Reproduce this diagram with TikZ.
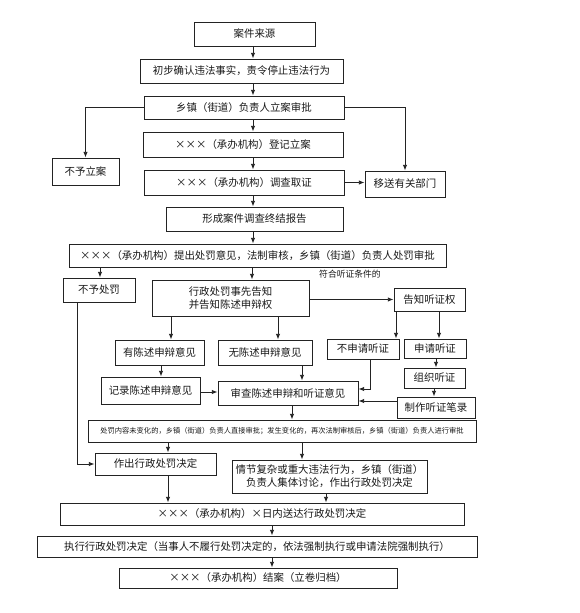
\documentclass[tikz,border=0pt]{standalone}
\usepackage{fontspec}
\setmainfont{Noto Sans CJK SC}
\usepackage{tikz}
\usetikzlibrary{arrows.meta}
\definecolor{flowInk}{RGB}{25,25,25}
\definecolor{flowLine}{RGB}{35,35,35}
\newlength{\figpx}
\setlength{\figpx}{0.03cm}

\begin{document}
\begin{tikzpicture}[
  x=1\figpx,
  y=-1\figpx,
  >=Latex,
  font=\fontsize{8.9}{11}\selectfont,
  box/.style={draw=flowLine, line width=0.8pt, align=center, inner sep=0pt, text=flowInk},
  wh/.style 2 args={minimum width=#1\figpx, minimum height=#2\figpx},
  line/.style={-{Latex[length=1.7mm,width=1.3mm]}, draw=flowLine, line width=0.7pt}
]
\fill[white] (0,0) rectangle (579,613);
\useasboundingbox (0,0) rectangle (579,613);

% filing
\node[box, wh={121}{24}] (source) at (254.5,34) {案件来源};
\node[box, wh={203}{24}] (confirm) at (241.5,71) {初步确认违法事实，责令停止违法行为};
\node[box, wh={200}{23}] (approve) at (244,107.5) {乡镇（街道）负责人立案审批};
\node[box, wh={200}{25}] (register) at (243,144.5) {×××（承办机构）登记立案};
\node[box, wh={67}{27}] (nocase) at (85.5,171.5) {不予立案};
\node[box, wh={80}{26}] (transfer) at (405,184) {移送有关部门};
\node[box, wh={200}{25}] (investigate) at (244,182.5) {×××（承办机构）调查取证};
\node[box, wh={177}{24}] (report) at (254.5,219) {形成案件调查终结报告};
\node[box, wh={377}{23}] (propose) at (257.5,255.5) {×××（承办机构）提出处罚意见，法制审核，乡镇（街道）负责人处罚审批};
\node[font=\fontsize{7.5}{9}\selectfont, text=flowInk] (hearcond) at (350,274) {符合听证条件的};

% notice and hearing
\node[box, wh={72}{24}] (nopenalty) at (99,290) {不予处罚};
\node[box, wh={157}{36}] (notify) at (230.5,298) {行政处罚事先告知\\并告知陈述申辩权};
\node[box, wh={71}{23}] (hearright) at (429.5,299.5) {告知听证权};
\node[box, wh={89}{25}] (withopinion) at (159.5,352.5) {有陈述申辩意见};
\node[box, wh={94}{25}] (noopinion) at (265,352.5) {无陈述申辩意见};
\node[box, wh={72}{20}] (nohearing) at (363,349) {不申请听证};
\node[box, wh={62}{19}] (applyhearing) at (435,348.5) {申请听证};
\node[box, wh={61}{20}] (holdhearing) at (434.5,378) {组织听证};
\node[box, wh={78}{21}] (hearingrecord) at (436,407.5) {制作听证笔录};
\node[box, wh={99}{27}] (recordopinion) at (150.5,390.5) {记录陈述申辩意见};
\node[box, wh={140}{24}] (review) at (288,393) {审查陈述申辩和听证意见};
\node[box, wh={388}{22}, font=\fontsize{6.2}{8}\selectfont] (note) at (282,431) {处罚内容未变化的，乡镇（街道）负责人直接审批；发生变化的，再次法制审核后，乡镇（街道）负责人进行审批};

% decision
\node[box, wh={121}{22}] (decide) at (155.5,464) {作出行政处罚决定};
\node[box, wh={195}{33}] (collective) at (329.5,476.5) {情节复杂或重大违法行为，乡镇（街道）\\负责人集体讨论，作出行政处罚决定};
\node[box, wh={404}{22}] (deliver) at (262,514) {×××（承办机构）×日内送达行政处罚决定};
\node[box, wh={440}{21}] (execute) at (257,546.5) {执行行政处罚决定（当事人不履行处罚决定的，依法强制执行或申请法院强制执行）};
\node[box, wh={278}{20}] (close) at (258,578) {×××（承办机构）结案（立卷归档）};

% main column
\draw[line] (253,0 |- source.south) -- (253,0 |- confirm.north);
\draw[line] (253,0 |- confirm.south) -- (253,0 |- approve.north);
\draw[line] (253,0 |- approve.south) -- (253,0 |- register.north);
\draw[line] (253,0 |- register.south) -- (253,0 |- investigate.north);
\draw[line] (253,0 |- investigate.south) -- (253,0 |- report.north);
\draw[line] (253,0 |- report.south) -- (253,0 |- propose.north);
\draw[line] (252,0 |- propose.south) -- (252,0 |- notify.north);

\draw[line] (approve.west) -| (nocase.north);
\draw[line] (approve.east) -| (transfer.north);
\draw[line] (investigate.east) -- (investigate.east -| transfer.west);
\draw[line] (100,0 |- propose.south) -- (100,0 |- nopenalty.north);

% notice branches
\draw[line] (notify.east |- hearright.west) -- (hearright.west);
\draw[line] (171,0 |- notify.south) -- (171,0 |- withopinion.north);
\draw[line] (278,0 |- notify.south) -- (278,0 |- noopinion.north);
\draw[line] (396,0 |- hearright.south) -- (396,0 |- nohearing.north);
\draw[line] (439,0 |- hearright.south) -- (439,0 |- applyhearing.north);
\draw[line] (436,0 |- applyhearing.south) -- (436,0 |- holdhearing.north);
\draw[line] (434,0 |- holdhearing.south) -- (434,0 |- hearingrecord.north);
\draw[line] (161,0 |- withopinion.south) -- (161,0 |- recordopinion.north);
\draw[line] (recordopinion.east |- 0,392) -- (review.west |- 0,392);
\draw[line] (302,0 |- noopinion.south) -- (302,0 |- review.north);
\draw[line] (370,0 |- nohearing.south) |- (review.east |- 0,389);
\draw[line] (hearingrecord.west |- 0,401) -- (review.east |- 0,401);
\draw[line] (292,0 |- review.south) -- (292,0 |- note.north);

% decision and closing
\draw[line] (77,0 |- nopenalty.south) |- (decide.west);
\draw[line] (168,0 |- note.south) -- (168,0 |- decide.north);
\draw[line] (302,0 |- note.south) -- (302,0 |- collective.north);
\draw[line] (168,0 |- decide.south) -- (168,0 |- deliver.north);
\draw[line] (326,0 |- collective.south) -- (326,0 |- deliver.north);
\draw[line] (272,0 |- deliver.south) -- (272,0 |- execute.north);
\draw[line] (272,0 |- execute.south) -- (272,0 |- close.north);
\end{tikzpicture}
\end{document}
